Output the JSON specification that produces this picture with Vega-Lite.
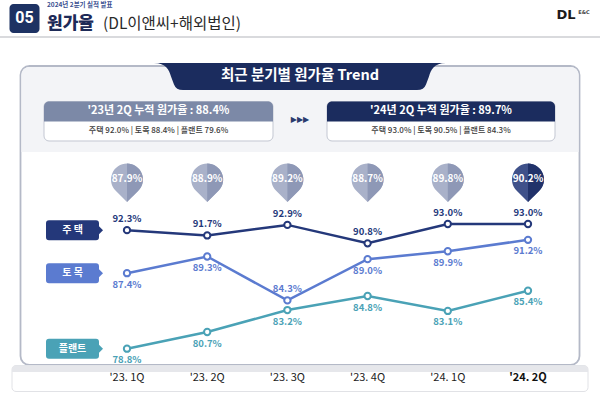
{
  "$schema": "https://vega.github.io/schema/vega-lite/v6.json",
  "width": 600,
  "height": 406,
  "autosize": {"type": "none"},
  "padding": 0,
  "background": "#ffffff",
  "config": {
    "view": {"stroke": null},
    "axis": {"disable": true},
    "locale": {"number": {"decimal": ".", "thousands": ",", "grouping": [3], "currency": ["", "%"]}},
    "text": {"font": "Noto Sans CJK KR", "baseline": "middle"}
  },
  "datasets": {
    "one": [{"item": "furniture"}],
    "series": [
      {"quarter": "'23. 1Q", "segment": "주택", "value": 92.3},
      {"quarter": "'23. 2Q", "segment": "주택", "value": 91.7},
      {"quarter": "'23. 3Q", "segment": "주택", "value": 92.9},
      {"quarter": "'23. 4Q", "segment": "주택", "value": 90.8},
      {"quarter": "'24. 1Q", "segment": "주택", "value": 93.0},
      {"quarter": "'24. 2Q", "segment": "주택", "value": 93.0},
      {"quarter": "'23. 1Q", "segment": "토목", "value": 87.4},
      {"quarter": "'23. 2Q", "segment": "토목", "value": 89.3},
      {"quarter": "'23. 3Q", "segment": "토목", "value": 84.3},
      {"quarter": "'23. 4Q", "segment": "토목", "value": 89.0},
      {"quarter": "'24. 1Q", "segment": "토목", "value": 89.9},
      {"quarter": "'24. 2Q", "segment": "토목", "value": 91.2},
      {"quarter": "'23. 1Q", "segment": "플랜트", "value": 78.8},
      {"quarter": "'23. 2Q", "segment": "플랜트", "value": 80.7},
      {"quarter": "'23. 3Q", "segment": "플랜트", "value": 83.2},
      {"quarter": "'23. 4Q", "segment": "플랜트", "value": 84.8},
      {"quarter": "'24. 1Q", "segment": "플랜트", "value": 83.1},
      {"quarter": "'24. 2Q", "segment": "플랜트", "value": 85.4}
    ],
    "total": [
      {"quarter": "'23. 1Q", "value": 87.9},
      {"quarter": "'23. 2Q", "value": 88.9},
      {"quarter": "'23. 3Q", "value": 89.2},
      {"quarter": "'23. 4Q", "value": 88.7},
      {"quarter": "'24. 1Q", "value": 89.8},
      {"quarter": "'24. 2Q", "value": 90.2}
    ],
    "summary": [
      {"period": "'23년 2Q", "head": "'23년 2Q 누적 원가율 : 88.4%", "detail": "주택 92.0% | 토목 88.4% | 플랜트 79.6%"},
      {"period": "'24년 2Q", "head": "'24년 2Q 누적 원가율 : 89.7%", "detail": "주택 93.0% | 토목 90.5% | 플랜트 84.3%"}
    ]
  },
  "data": {"name": "one"},
  "layer": [
    {
      "mark": {"type": "rect", "fill": "#ffffff", "stroke": "#b4b9c7", "strokeWidth": 1.8, "cornerRadius": 9, "xOffset": -106.5, "x2Offset": 51.5},
      "encoding": {
        "x": {"datum": "'23. 1Q", "type": "ordinal", "axis": null, "scale": {"type": "point", "domain": ["'23. 1Q", "'23. 2Q", "'23. 3Q", "'23. 4Q", "'24. 1Q", "'24. 2Q"], "range": [127, 528], "padding": 0}},
        "x2": {"datum": "'24. 2Q"},
        "y": {"datum": 110.998, "type": "quantitative", "axis": null, "scale": {"domain": [70, 100], "range": [425.96, 162.56], "nice": false, "zero": false}},
        "y2": {"datum": 76.943}
      }
    },
    {
      "mark": {"type": "rect", "fill": "#f3f4f7", "cornerRadiusTopLeft": 8, "cornerRadiusTopRight": 8, "xOffset": -105.6, "x2Offset": 50.6},
      "encoding": {
        "x": {"datum": "'23. 1Q", "type": "ordinal", "axis": null}, "x2": {"datum": "'24. 2Q"},
        "y": {"datum": 110.895, "type": "quantitative", "axis": null}, "y2": {"datum": 101.203}
      }
    },
    {
      "mark": {"type": "rule", "stroke": "#d9dadd", "strokeWidth": 2, "xOffset": -127, "x2Offset": 72},
      "encoding": {
        "x": {"datum": "'23. 1Q", "type": "ordinal", "axis": null}, "x2": {"datum": "'24. 2Q"},
        "y": {"datum": 114.301, "type": "quantitative", "axis": null}
      }
    },
    {
      "mark": {"type": "rect", "fill": "#1d3263", "cornerRadius": 4, "xOffset": -117.5, "x2Offset": -87.5},
      "encoding": {
        "x": {"datum": "'23. 1Q", "type": "ordinal", "axis": null}, "x2": {"datum": "'23. 1Q"},
        "y": {"datum": 118.059, "type": "quantitative", "axis": null}, "y2": {"datum": 114.756}
      }
    },
    {
      "mark": {"type": "text", "dx": -102.5, "fontSize": 16, "fontWeight": "bold", "fill": "#ffffff", "font": "Roboto"},
      "encoding": {"x": {"datum": "'23. 1Q", "type": "ordinal", "axis": null}, "y": {"datum": 116.408, "type": "quantitative", "axis": null}, "text": {"value": "05"}}
    },
    {
      "mark": {"type": "text", "dx": -80, "align": "left", "fontSize": 6.5, "fontWeight": "bold", "fill": "#3b5191"},
      "encoding": {"x": {"datum": "'23. 1Q", "type": "ordinal", "axis": null}, "y": {"datum": 117.889, "type": "quantitative", "axis": null}, "text": {"value": "2024년 2분기 실적 발표"}}
    },
    {
      "mark": {"type": "text", "dx": -80, "align": "left", "fontSize": 17, "fontWeight": 900, "fill": "#1e2b58"},
      "encoding": {"x": {"datum": "'23. 1Q", "type": "ordinal", "axis": null}, "y": {"datum": 115.725, "type": "quantitative", "axis": null}, "text": {"value": "원가율"}}
    },
    {
      "mark": {"type": "text", "dx": -24, "align": "left", "fontSize": 15.5, "fontWeight": "normal", "fill": "#2a2a2a"},
      "encoding": {"x": {"datum": "'23. 1Q", "type": "ordinal", "axis": null}, "y": {"datum": 115.725, "type": "quantitative", "axis": null}, "text": {"value": "(DL이앤씨+해외법인)"}}
    },
    {
      "mark": {"type": "text", "dx": 38, "fontSize": 13, "fontWeight": 900, "fill": "#1b1b1b", "font": "DejaVu Sans"},
      "encoding": {"x": {"datum": "'24. 2Q", "type": "ordinal", "axis": null}, "y": {"datum": 116.807, "type": "quantitative", "axis": null}, "text": {"value": "DL"}}
    },
    {
      "mark": {"type": "text", "dx": 56, "fontSize": 5, "fontWeight": "bold", "fill": "#444444", "font": "DejaVu Sans"},
      "encoding": {"x": {"datum": "'24. 2Q", "type": "ordinal", "axis": null}, "y": {"datum": 117.148, "type": "quantitative", "axis": null}, "text": {"value": "E&C"}}
    },
    {
      "mark": {"type": "point", "filled": true, "opacity": 1, "fill": "#1b2c5e", "strokeWidth": 0, "size": 82944, "xOffset": 12.6,
        "shape": "M-1.0139,-0.0938 L1.0139,-0.0938 C0.9306,-0.0938 0.9097,-0.0486 0.8958,0 L0.875,0.0556 Q0.8611,0.0938 0.8125,0.0938 L-0.8125,0.0938 Q-0.8611,0.0938 -0.875,0.0556 L-0.8958,0 C-0.9097,-0.0486 -0.9306,-0.0938 -1.0139,-0.0938 Z"},
      "encoding": {"x": {"datum": "'23. 3Q", "type": "ordinal", "axis": null}, "y": {"datum": 109.802, "type": "quantitative", "axis": null}}
    },
    {
      "mark": {"type": "text", "dx": 12.6, "fontSize": 14.5, "fontWeight": "bold", "fill": "#ffffff"},
      "encoding": {"x": {"datum": "'23. 3Q", "type": "ordinal", "axis": null}, "y": {"datum": 109.802, "type": "quantitative", "axis": null}, "text": {"value": "최근 분기별 원가율 Trend"}}
    },
    {
      "data": {"name": "summary"},
      "transform": [{"filter": "datum.period === \"'23년 2Q\""}],
      "mark": {"type": "rect", "fill": "#ffffff", "stroke": "#c3c7d2", "strokeWidth": 1, "cornerRadius": 5, "xOffset": -83, "x2Offset": 146},
      "encoding": {"x": {"datum": "'23. 1Q", "type": "ordinal", "axis": null}, "x2": {"datum": "'23. 1Q"}, "y": {"datum": 106.955, "type": "quantitative", "axis": null}, "y2": {"datum": 102.456}}
    },
    {
      "data": {"name": "summary"},
      "transform": [{"filter": "datum.period === \"'23년 2Q\""}],
      "mark": {"type": "rect", "fill": "#7c89a7", "cornerRadiusTopLeft": 5, "cornerRadiusTopRight": 5, "xOffset": -83, "x2Offset": 146},
      "encoding": {"x": {"datum": "'23. 1Q", "type": "ordinal", "axis": null}, "x2": {"datum": "'23. 1Q"}, "y": {"datum": 106.955, "type": "quantitative", "axis": null}, "y2": {"datum": 104.677}}
    },
    {
      "data": {"name": "summary"},
      "transform": [{"filter": "datum.period === \"'23년 2Q\""}],
      "mark": {"type": "text", "dx": 31.5, "fontSize": 11, "fontWeight": "bold", "fill": "#ffffff"},
      "encoding": {"x": {"datum": "'23. 1Q", "type": "ordinal", "axis": null}, "y": {"datum": 105.816, "type": "quantitative", "axis": null}, "text": {"field": "head"}}
    },
    {
      "data": {"name": "summary"},
      "transform": [{"filter": "datum.period === \"'23년 2Q\""}],
      "mark": {"type": "text", "dx": 31.5, "fontSize": 8, "fontWeight": 500, "fill": "#3c3c3c"},
      "encoding": {"x": {"datum": "'23. 1Q", "type": "ordinal", "axis": null}, "y": {"datum": 103.538, "type": "quantitative", "axis": null}, "text": {"field": "detail"}}
    },
    {
      "data": {"name": "summary"},
      "transform": [{"filter": "datum.period === \"'24년 2Q\""}],
      "mark": {"type": "rect", "fill": "#ffffff", "stroke": "#c3c7d2", "strokeWidth": 1, "cornerRadius": 5, "xOffset": -40.6, "x2Offset": 27},
      "encoding": {"x": {"datum": "'23. 4Q", "type": "ordinal", "axis": null}, "x2": {"datum": "'24. 2Q"}, "y": {"datum": 106.955, "type": "quantitative", "axis": null}, "y2": {"datum": 102.456}}
    },
    {
      "data": {"name": "summary"},
      "transform": [{"filter": "datum.period === \"'24년 2Q\""}],
      "mark": {"type": "rect", "fill": "#1b2c5e", "cornerRadiusTopLeft": 5, "cornerRadiusTopRight": 5, "xOffset": -40.6, "x2Offset": 27},
      "encoding": {"x": {"datum": "'23. 4Q", "type": "ordinal", "axis": null}, "x2": {"datum": "'24. 2Q"}, "y": {"datum": 106.955, "type": "quantitative", "axis": null}, "y2": {"datum": 104.677}}
    },
    {
      "data": {"name": "summary"},
      "transform": [{"filter": "datum.period === \"'24년 2Q\""}],
      "mark": {"type": "text", "dx": -6.8, "fontSize": 11, "fontWeight": "bold", "fill": "#ffffff"},
      "encoding": {"x": {"datum": "'24. 1Q", "type": "ordinal", "axis": null}, "y": {"datum": 105.816, "type": "quantitative", "axis": null}, "text": {"field": "head"}}
    },
    {
      "data": {"name": "summary"},
      "transform": [{"filter": "datum.period === \"'24년 2Q\""}],
      "mark": {"type": "text", "dx": -6.8, "fontSize": 8, "fontWeight": 500, "fill": "#3c3c3c"},
      "encoding": {"x": {"datum": "'24. 1Q", "type": "ordinal", "axis": null}, "y": {"datum": 103.538, "type": "quantitative", "axis": null}, "text": {"field": "detail"}}
    },
    {
      "mark": {"type": "text", "dx": 12.6, "fontSize": 8, "fill": "#2a3a6e", "font": "DejaVu Sans"},
      "encoding": {"x": {"datum": "'23. 3Q", "type": "ordinal", "axis": null}, "y": {"datum": 104.791, "type": "quantitative", "axis": null}, "text": {"value": "▶▶▶"}}
    },
    {
      "mark": {"type": "rect", "fill": "#ffffff", "stroke": "#e1e2e6", "strokeWidth": 1, "cornerRadius": 4, "xOffset": -115, "x2Offset": 60},
      "encoding": {"x": {"datum": "'23. 1Q", "type": "ordinal", "axis": null}, "x2": {"datum": "'24. 2Q"}, "y": {"datum": 76.886, "type": "quantitative", "axis": null}, "y2": {"datum": 73.925}}
    },
    {
      "mark": {"type": "rect", "fill": "#e6e7eb", "cornerRadiusTopLeft": 4, "cornerRadiusTopRight": 4, "xOffset": -115, "x2Offset": 60},
      "encoding": {"x": {"datum": "'23. 1Q", "type": "ordinal", "axis": null}, "x2": {"datum": "'24. 2Q"}, "y": {"datum": 76.886, "type": "quantitative", "axis": null}, "y2": {"datum": 76.146}}
    },
    {
      "data": {"name": "total"},
      "transform": [{"filter": "datum.quarter !== \"'24. 2Q\""}],
      "mark": {"type": "text", "fontSize": 11, "fontWeight": "normal", "fill": "#222222"},
      "encoding": {"x": {"field": "quarter", "type": "ordinal", "axis": null}, "y": {"datum": 75.406, "type": "quantitative", "axis": null}, "text": {"field": "quarter"}}
    },
    {
      "data": {"name": "total"},
      "transform": [{"filter": "datum.quarter === \"'24. 2Q\""}],
      "mark": {"type": "text", "fontSize": 11, "fontWeight": "bold", "fill": "#111111"},
      "encoding": {"x": {"field": "quarter", "type": "ordinal", "axis": null}, "y": {"datum": 75.406, "type": "quantitative", "axis": null}, "text": {"field": "quarter"}}
    },
    {
      "data": {"name": "total"},
      "mark": {"type": "point", "filled": true, "opacity": 1, "strokeWidth": 0, "size": 1482, "shape": "M0,1 L-0.585,0.418 A0.83,0.83 0 1,1 0.585,0.418 Z"},
      "encoding": {
        "x": {"field": "quarter", "type": "ordinal", "axis": null},
        "y": {"datum": 97.695, "type": "quantitative", "axis": null},
        "fill": {"condition": {"test": "datum.quarter === \"'24. 2Q\"", "value": "#3f518a"}, "value": "#a9b1c9"}
      }
    },
    {
      "data": {"name": "total"},
      "mark": {"type": "point", "filled": true, "opacity": 1, "strokeWidth": 0, "size": 1482, "shape": "M0,1 L0,-1 A0.83,0.83 0 0,1 0.585,0.418 Z"},
      "encoding": {
        "x": {"field": "quarter", "type": "ordinal", "axis": null},
        "y": {"datum": 97.695, "type": "quantitative", "axis": null},
        "fill": {"condition": {"test": "datum.quarter === \"'24. 2Q\"", "value": "#21326a"}, "value": "#8e98b6"}
      }
    },
    {
      "data": {"name": "total"},
      "mark": {"type": "text", "fontSize": 10, "fontWeight": "bold", "fill": "#ffffff"},
      "encoding": {
        "x": {"field": "quarter", "type": "ordinal", "axis": null},
        "y": {"datum": 98.071, "type": "quantitative", "axis": null},
        "text": {"field": "value", "type": "quantitative", "format": "$.1f"}
      }
    },
    {
      "data": {"name": "series"},
      "mark": {"type": "line", "strokeWidth": 2.5},
      "encoding": {
        "x": {"field": "quarter", "type": "ordinal", "axis": null},
        "y": {"field": "value", "type": "quantitative", "axis": null},
        "color": {"field": "segment", "type": "nominal", "legend": null, "scale": {"domain": ["주택", "토목", "플랜트"], "range": ["#24387a", "#5b7bd0", "#4aa2b6"]}}
      }
    },
    {
      "data": {"name": "series"},
      "mark": {"type": "point", "filled": false, "fill": "#ffffff", "fillOpacity": 1, "opacity": 1, "size": 40, "strokeWidth": 2, "shape": "circle"},
      "encoding": {
        "x": {"field": "quarter", "type": "ordinal", "axis": null},
        "y": {"field": "value", "type": "quantitative", "axis": null},
        "stroke": {"field": "segment", "type": "nominal", "legend": null, "scale": {"domain": ["주택", "토목", "플랜트"], "range": ["#24387a", "#5b7bd0", "#4aa2b6"]}}
      }
    },
    {
      "data": {"name": "series"},
      "transform": [{"filter": "datum.segment === '주택' || (datum.segment === '토목' && datum.quarter === \"'23. 3Q\")"}],
      "mark": {"type": "text", "dy": -11, "fontSize": 9.5, "fontWeight": "bold"},
      "encoding": {
        "x": {"field": "quarter", "type": "ordinal", "axis": null},
        "y": {"field": "value", "type": "quantitative", "axis": null},
        "text": {"field": "value", "type": "quantitative", "format": "$.1f"},
        "fill": {"field": "segment", "type": "nominal", "legend": null, "scale": {"domain": ["주택", "토목", "플랜트"], "range": ["#24387a", "#5b7bd0", "#4aa2b6"]}}
      }
    },
    {
      "data": {"name": "series"},
      "transform": [{"filter": "!(datum.segment === '주택' || (datum.segment === '토목' && datum.quarter === \"'23. 3Q\"))"}],
      "mark": {"type": "text", "dy": 11.5, "fontSize": 9.5, "fontWeight": "bold"},
      "encoding": {
        "x": {"field": "quarter", "type": "ordinal", "axis": null},
        "y": {"field": "value", "type": "quantitative", "axis": null},
        "text": {"field": "value", "type": "quantitative", "format": "$.1f"},
        "fill": {"field": "segment", "type": "nominal", "legend": null, "scale": {"domain": ["주택", "토목", "플랜트"], "range": ["#24387a", "#5b7bd0", "#4aa2b6"]}}
      }
    },
    {
      "data": {"name": "series"},
      "transform": [{"filter": "datum.quarter === \"'23. 1Q\""}],
      "mark": {"type": "point", "filled": true, "opacity": 1, "strokeWidth": 0, "size": 2809, "xOffset": -54.5,
        "shape": "M-0.887,-0.377 L0.887,-0.377 Q1,-0.377 1,-0.264 L1,-0.151 L1.151,0 L1,0.151 L1,0.264 Q1,0.377 0.887,0.377 L-0.887,0.377 Q-1,0.377 -1,0.264 L-1,-0.264 Q-1,-0.377 -0.887,-0.377 Z"},
      "encoding": {
        "x": {"field": "quarter", "type": "ordinal", "axis": null},
        "y": {"field": "value", "type": "quantitative", "axis": null},
        "fill": {"field": "segment", "type": "nominal", "legend": null, "scale": {"domain": ["주택", "토목", "플랜트"], "range": ["#24387a", "#5b7bd0", "#4aa2b6"]}}
      }
    },
    {
      "data": {"name": "series"},
      "transform": [{"filter": "datum.quarter === \"'23. 1Q\" && datum.segment === '주택'"}],
      "mark": {"type": "text", "dx": -54.5, "fontSize": 10, "fontWeight": "bold", "fill": "#ffffff"},
      "encoding": {"x": {"field": "quarter", "type": "ordinal", "axis": null}, "y": {"field": "value", "type": "quantitative", "axis": null}, "text": {"value": "주 택"}}
    },
    {
      "data": {"name": "series"},
      "transform": [{"filter": "datum.quarter === \"'23. 1Q\" && datum.segment === '토목'"}],
      "mark": {"type": "text", "dx": -54.5, "fontSize": 10, "fontWeight": "bold", "fill": "#ffffff"},
      "encoding": {"x": {"field": "quarter", "type": "ordinal", "axis": null}, "y": {"field": "value", "type": "quantitative", "axis": null}, "text": {"value": "토 목"}}
    },
    {
      "data": {"name": "series"},
      "transform": [{"filter": "datum.quarter === \"'23. 1Q\" && datum.segment === '플랜트'"}],
      "mark": {"type": "text", "dx": -54.5, "fontSize": 10, "fontWeight": "bold", "fill": "#ffffff"},
      "encoding": {"x": {"field": "quarter", "type": "ordinal", "axis": null}, "y": {"field": "value", "type": "quantitative", "axis": null}, "text": {"value": "플랜트"}}
    }
  ]
}
